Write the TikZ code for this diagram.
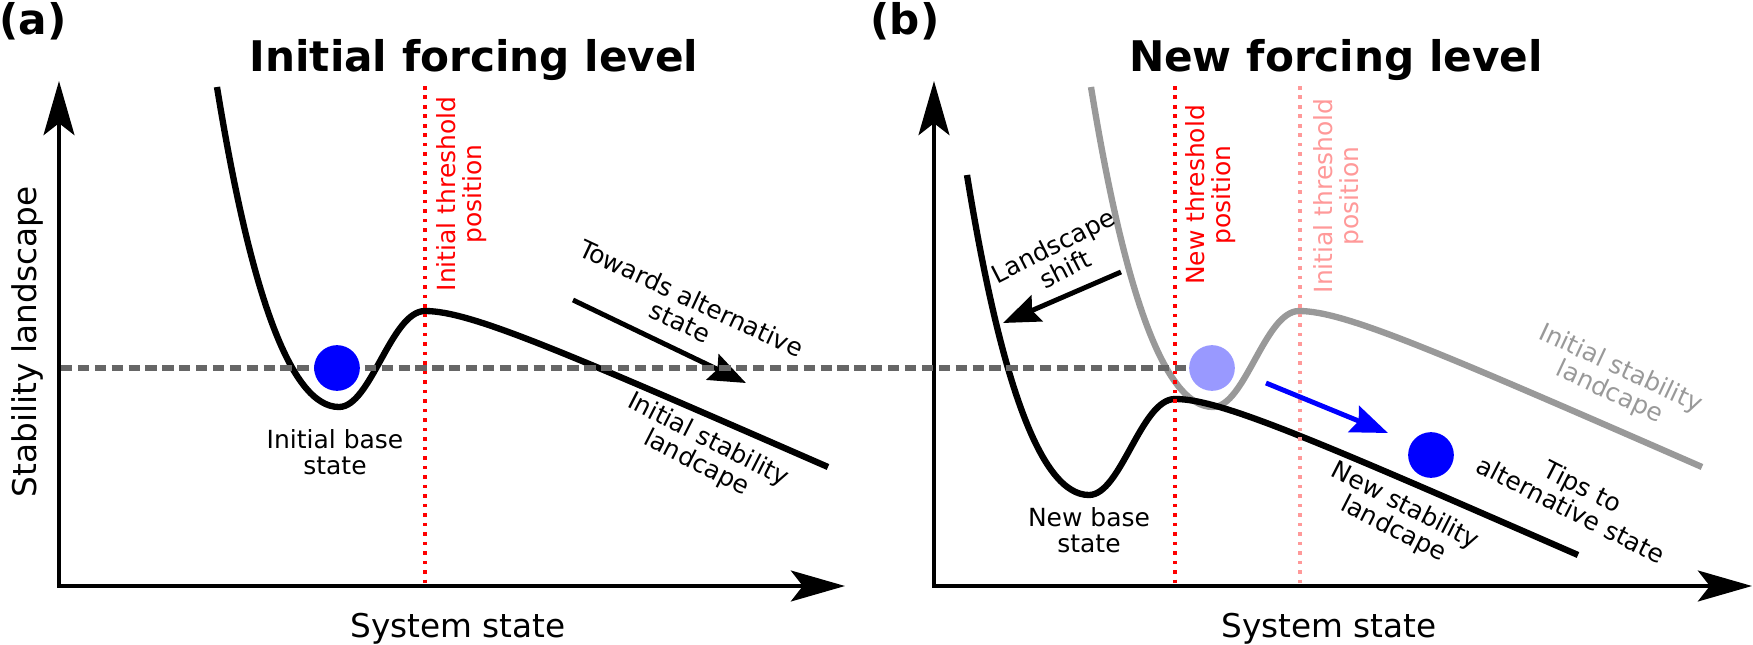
\documentclass[tikz,border=0pt]{standalone}
\usepackage{fontspec}
\setmainfont{DejaVu Sans}
\usetikzlibrary{arrows.meta}
\definecolor{levelgray}{HTML}{666666}
\definecolor{oldgray}{HTML}{999999}
\definecolor{ghostblue}{HTML}{9999FF}
\definecolor{oldred}{HTML}{FF9999}
\newcommand{\labelsize}{\fontsize{7.1}{7.4}\selectfont}
\newcommand{\axissize}{\fontsize{9.3}{11}\selectfont}
\newcommand{\titlesize}{\fontsize{12}{14}\selectfont\bfseries}
\tikzset{axistip/.tip={Stealth[length=15.4pt,width=8.8pt,inset=3.4pt]},
  movetip/.tip={Stealth[length=10.5pt,width=8pt,inset=1.5pt]}}
\tikzstyle{axis}=[line width=1pt,axistip-axistip]
\tikzstyle{landscape}=[line width=1.8pt,line join=round]
\tikzstyle{oldlandscape}=[landscape,oldgray]
\tikzstyle{threshold}=[red,line width=1pt,dash pattern=on 1pt off 1.7pt]
\tikzstyle{oldthreshold}=[threshold,oldred]
\tikzstyle{level}=[levelgray,line width=1.7pt,dash pattern=on 3.2pt off 1.6pt]
\tikzstyle{ball}=[circle,fill=blue,inner sep=0pt,minimum size=13pt]
\tikzstyle{move}=[line width=1.4pt,-movetip]
\tikzstyle{note}=[align=center,font=\labelsize,inner sep=0pt]
\tikzstyle{vnote}=[note,rotate=90,red]
\tikzstyle{title}=[anchor=base,font=\titlesize,inner sep=0pt]
% one landscape, drawn again shifted in panel (b)
\newcommand{\landpath}{(217,87) .. controls (250,290) and (290,407) .. (339,407)
  .. controls (371,407) and (391,311) .. (425,311)
  .. controls (470,311) and (560,350) .. (828,467)}

\begin{document}
\begin{tikzpicture}[x=0.01cm,y=-0.01cm]
  \useasboundingbox (0,0) rectangle (1753,645);
  % panel (a)
  \node[title,anchor=base west] (taga) at (-1,34) {(a)};
  \node[title] (titlea) at (474,71) {Initial forcing level};
  \coordinate (Ya) at (59,81);
  \coordinate (Oa) at (59,586);
  \coordinate (Xa) at (845,586);
  \draw[axis] (Ya) -- (Oa) -- (Xa);
  \node[anchor=base,font=\axissize] (xlaba) at (458,637) {System state};
  \node[rotate=90,font=\axissize] (ylab) at (27,342) {Stability landscape};
  \draw[landscape] \landpath;
  \coordinate (tha1) at (425,86);
  \coordinate (tha2) at (425,586);
  \node[vnote] (thlaba) at (462,194) {Initial threshold\\position};
  \node[note] (basea) at (335,452) {Initial base\\state};
  \coordinate (mva1) at (573,300);
  \coordinate (mva2) at (746,383);
  \draw[move] (mva1) -- (mva2);
  \node[note,rotate=-25] (mvlaba) at (686,310) {Towards alternative\\state};
  \node[note,rotate=-27] (landa) at (702,452) {Initial stability\\landcape};
  % panel (b)
  \node[title,anchor=base west] (tagb) at (870,34) {(b)};
  \node[title] (titleb) at (1336,71) {New forcing level};
  \coordinate (Yb) at (934,81);
  \coordinate (Ob) at (934,586);
  \coordinate (Xb) at (1752,586);
  \draw[axis] (Yb) -- (Ob) -- (Xb);
  \node[anchor=base,font=\axissize] (xlabb) at (1329,637) {System state};
  \begin{scope}[shift={(874,0)}]
    \draw[oldlandscape] \landpath;
  \end{scope}
  \begin{scope}[shift={(750,88)}]
    \draw[landscape] \landpath;
  \end{scope}
  \coordinate (thb1) at (1175,86);
  \coordinate (thb2) at (1175,586);
  \coordinate (tho1) at (1300,86);
  \coordinate (tho2) at (1300,586);
  \node[vnote] (thlabb) at (1211,195) {New threshold\\position};
  \node[vnote,oldred] (thlabo) at (1339,196) {Initial threshold\\position};
  \node[note] (baseb) at (1089,530) {New base\\state};
  \coordinate (sh1) at (1121,272);
  \coordinate (sh2) at (1003,323);
  \draw[move] (sh1) -- (sh2);
  \node[note,rotate=27] (shlab) at (1059,257) {Landscape\\shift};
  \node[note,rotate=-25,oldgray] (lando) at (1615,381) {Initial stability\\landcape};
  \node[note,rotate=-27] (landb) at (1399,518) {New stability\\landcape};
  \node[note,rotate=-27] (tiplab) at (1577,498) {Tips to\\alternative state};
  % level, thresholds and balls
  \node[ball,fill=ghostblue] (ghost) at (1212,368) {};
  \coordinate (lv) at (61,368);
  \draw[level] (lv) -- (ghost.west);
  \node[ball] (balla) at (337,368) {};
  \node[ball] (ballb) at (1431,455) {};
  \draw[threshold] (tha1) -- (tha2);
  \draw[threshold] (thb1) -- (thb2);
  \draw[oldthreshold] (tho1) -- (tho2);
  \coordinate (tip1) at (1266,383);
  \coordinate (tip2) at (1388,433);
  \draw[move,blue] (tip1) -- (tip2);
\end{tikzpicture}
\end{document}
